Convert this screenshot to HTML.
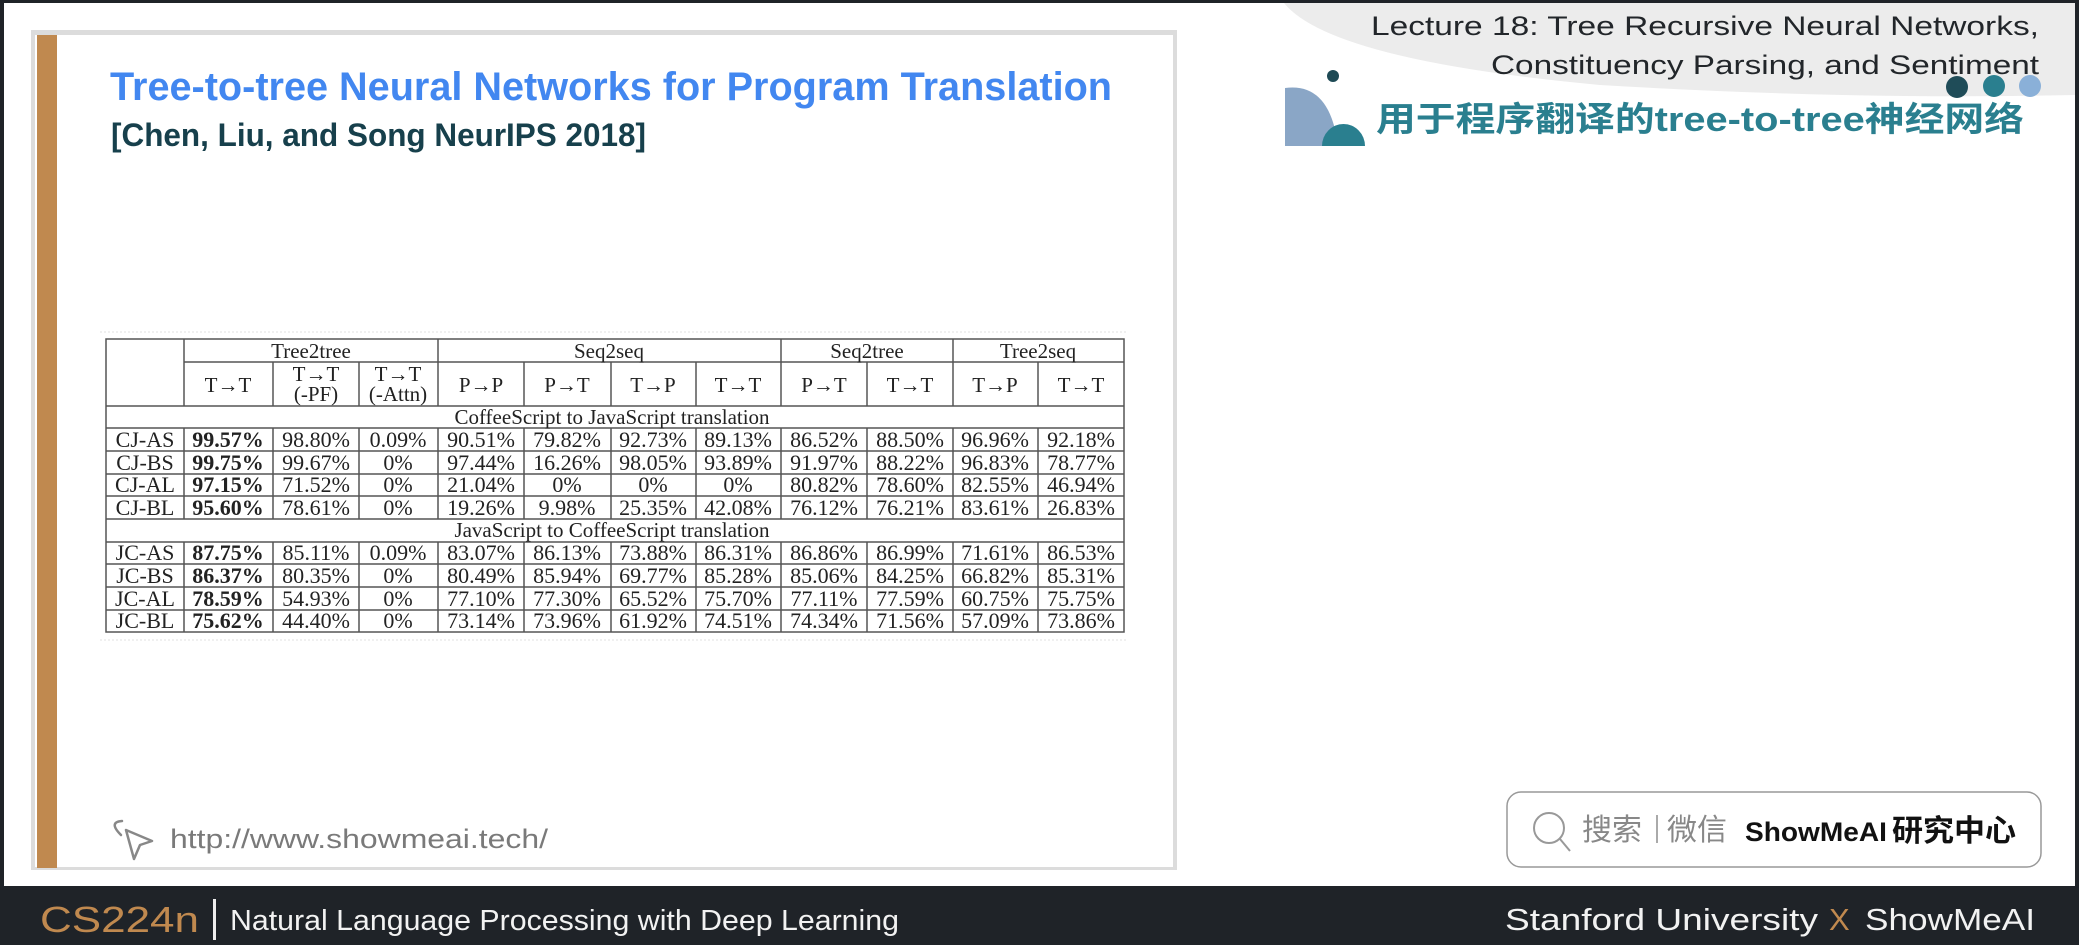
<!DOCTYPE html>
<html><head><meta charset="utf-8"><style>
html,body{margin:0;padding:0;background:#fff;}
svg{display:block;}
</style></head><body>
<svg width="2079" height="945" viewBox="0 0 2079 945" xmlns="http://www.w3.org/2000/svg">
<rect x="0" y="0" width="2079" height="945" fill="#fff"/>
<rect x="0" y="0" width="2079" height="3" fill="#1f2328"/>
<rect x="0" y="0" width="4" height="945" fill="#1f2328"/>
<rect x="2075" y="0" width="4" height="945" fill="#1f2328"/>
<path d="M1284 3 Q1330 60 1600 85 Q1850 100 2075 95 L2075 3 Z" fill="#ececec"/>
<rect x="31" y="30" width="1146" height="840" fill="#dcdcdc"/>
<rect x="35" y="35" width="1138" height="832" fill="#fff"/>
<rect x="37" y="35" width="20" height="833" fill="#c0894f"/>
<text x="110" y="100" font-family="Liberation Sans, sans-serif" font-weight="bold" font-size="40" fill="#4287f0" textLength="1002" lengthAdjust="spacingAndGlyphs">Tree-to-tree Neural Networks for Program Translation</text>
<text x="111" y="146" font-family="Liberation Sans, sans-serif" font-weight="bold" font-size="32" fill="#17404c" textLength="535" lengthAdjust="spacingAndGlyphs">[Chen, Liu, and Song NeurIPS 2018]</text>
<text x="2039" y="35" text-anchor="end" font-family="Liberation Sans, sans-serif" font-size="27" fill="#22262a" textLength="668" lengthAdjust="spacingAndGlyphs">Lecture 18: Tree Recursive Neural Networks,</text>
<text x="2039" y="74" text-anchor="end" font-family="Liberation Sans, sans-serif" font-size="27" fill="#22262a" textLength="548" lengthAdjust="spacingAndGlyphs">Constituency Parsing, and Sentiment</text>
<circle cx="1333" cy="76" r="6" fill="#1e4a55"/>
<path d="M1285 146 L1285 88 Q1330 82 1338 146 Z" fill="#8aa6c6"/>
<path d="M1322 146 A21.5 22 0 0 1 1365 146 Z" fill="#2a7f8f"/>
<circle cx="1957" cy="87" r="11" fill="#1f4c58"/>
<circle cx="1994" cy="86" r="11" fill="#2a7f8f"/>
<circle cx="2030" cy="86" r="11" fill="#8ab0d8"/>
<text x="1376" y="131" font-family="Liberation Sans, 'Noto Sans CJK SC', sans-serif" font-weight="bold" font-size="34" fill="#2a7f8f" textLength="648" lengthAdjust="spacingAndGlyphs">用于程序翻译的tree-to-tree神经网络</text>
<g stroke="#e0e0e0" stroke-dasharray="2,2" stroke-width="1">
<line x1="100" y1="332" x2="1128" y2="332"/><line x1="100" y1="640" x2="1128" y2="640"/>
</g>
<g stroke="#555" stroke-width="1.5" fill="none">
<rect x="106" y="339" width="1018" height="293"/>
<line x1="184" y1="362" x2="1124" y2="362"/>
<line x1="106" y1="406" x2="1124" y2="406"/>
<line x1="106" y1="428" x2="1124" y2="428"/>
<line x1="106" y1="451" x2="1124" y2="451"/>
<line x1="106" y1="474" x2="1124" y2="474"/>
<line x1="106" y1="496" x2="1124" y2="496"/>
<line x1="106" y1="519" x2="1124" y2="519"/>
<line x1="106" y1="542" x2="1124" y2="542"/>
<line x1="106" y1="564" x2="1124" y2="564"/>
<line x1="106" y1="587" x2="1124" y2="587"/>
<line x1="106" y1="610" x2="1124" y2="610"/>
<line x1="184" y1="339" x2="184" y2="406"/>
<line x1="438" y1="339" x2="438" y2="406"/>
<line x1="781" y1="339" x2="781" y2="406"/>
<line x1="953" y1="339" x2="953" y2="406"/>
<line x1="273" y1="362" x2="273" y2="406"/>
<line x1="359" y1="362" x2="359" y2="406"/>
<line x1="524" y1="362" x2="524" y2="406"/>
<line x1="611" y1="362" x2="611" y2="406"/>
<line x1="696" y1="362" x2="696" y2="406"/>
<line x1="867" y1="362" x2="867" y2="406"/>
<line x1="1038" y1="362" x2="1038" y2="406"/>
<path d="M184 428V519M273 428V519M359 428V519M438 428V519M524 428V519M611 428V519M696 428V519M781 428V519M867 428V519M953 428V519M1038 428V519"/>
<path d="M184 542V632M273 542V632M359 542V632M438 542V632M524 542V632M611 542V632M696 542V632M781 542V632M867 542V632M953 542V632M1038 542V632"/>
</g>
<g font-family="Liberation Serif, serif" font-size="21" fill="#222" text-anchor="middle">
<text x="311" y="358">Tree2tree</text>
<text x="609" y="358">Seq2seq</text>
<text x="867" y="358">Seq2tree</text>
<text x="1038" y="358">Tree2seq</text>
<g font-size="21">
<text x="228" y="392">T→T</text>
<text x="316" y="381">T→T</text><text x="316" y="401">(-PF)</text>
<text x="398" y="381">T→T</text><text x="398" y="401">(-Attn)</text>
<text x="481" y="392">P→P</text>
<text x="567" y="392">P→T</text>
<text x="653" y="392">T→P</text>
<text x="738" y="392">T→T</text>
<text x="824" y="392">P→T</text>
<text x="910" y="392">T→T</text>
<text x="995" y="392">T→P</text>
<text x="1081" y="392">T→T</text>
</g>
<text x="612" y="424" font-size="21">CoffeeScript to JavaScript translation</text>
<text x="612" y="537" font-size="21">JavaScript to CoffeeScript translation</text>
</g>
<g font-family="Liberation Serif, serif" font-size="22" fill="#222" text-anchor="middle">
<g>
<text x="145" y="447">CJ-AS</text><text x="228" y="447" font-weight="bold">99.57%</text><text x="316" y="447">98.80%</text><text x="398" y="447">0.09%</text><text x="481" y="447">90.51%</text><text x="567" y="447">79.82%</text><text x="653" y="447">92.73%</text><text x="738" y="447">89.13%</text><text x="824" y="447">86.52%</text><text x="910" y="447">88.50%</text><text x="995" y="447">96.96%</text><text x="1081" y="447">92.18%</text>
</g>
<g>
<text x="145" y="470">CJ-BS</text><text x="228" y="470" font-weight="bold">99.75%</text><text x="316" y="470">99.67%</text><text x="398" y="470">0%</text><text x="481" y="470">97.44%</text><text x="567" y="470">16.26%</text><text x="653" y="470">98.05%</text><text x="738" y="470">93.89%</text><text x="824" y="470">91.97%</text><text x="910" y="470">88.22%</text><text x="995" y="470">96.83%</text><text x="1081" y="470">78.77%</text>
</g>
<g>
<text x="145" y="492">CJ-AL</text><text x="228" y="492" font-weight="bold">97.15%</text><text x="316" y="492">71.52%</text><text x="398" y="492">0%</text><text x="481" y="492">21.04%</text><text x="567" y="492">0%</text><text x="653" y="492">0%</text><text x="738" y="492">0%</text><text x="824" y="492">80.82%</text><text x="910" y="492">78.60%</text><text x="995" y="492">82.55%</text><text x="1081" y="492">46.94%</text>
</g>
<g>
<text x="145" y="515">CJ-BL</text><text x="228" y="515" font-weight="bold">95.60%</text><text x="316" y="515">78.61%</text><text x="398" y="515">0%</text><text x="481" y="515">19.26%</text><text x="567" y="515">9.98%</text><text x="653" y="515">25.35%</text><text x="738" y="515">42.08%</text><text x="824" y="515">76.12%</text><text x="910" y="515">76.21%</text><text x="995" y="515">83.61%</text><text x="1081" y="515">26.83%</text>
</g>
<g>
<text x="145" y="560">JC-AS</text><text x="228" y="560" font-weight="bold">87.75%</text><text x="316" y="560">85.11%</text><text x="398" y="560">0.09%</text><text x="481" y="560">83.07%</text><text x="567" y="560">86.13%</text><text x="653" y="560">73.88%</text><text x="738" y="560">86.31%</text><text x="824" y="560">86.86%</text><text x="910" y="560">86.99%</text><text x="995" y="560">71.61%</text><text x="1081" y="560">86.53%</text>
</g>
<g>
<text x="145" y="583">JC-BS</text><text x="228" y="583" font-weight="bold">86.37%</text><text x="316" y="583">80.35%</text><text x="398" y="583">0%</text><text x="481" y="583">80.49%</text><text x="567" y="583">85.94%</text><text x="653" y="583">69.77%</text><text x="738" y="583">85.28%</text><text x="824" y="583">85.06%</text><text x="910" y="583">84.25%</text><text x="995" y="583">66.82%</text><text x="1081" y="583">85.31%</text>
</g>
<g>
<text x="145" y="606">JC-AL</text><text x="228" y="606" font-weight="bold">78.59%</text><text x="316" y="606">54.93%</text><text x="398" y="606">0%</text><text x="481" y="606">77.10%</text><text x="567" y="606">77.30%</text><text x="653" y="606">65.52%</text><text x="738" y="606">75.70%</text><text x="824" y="606">77.11%</text><text x="910" y="606">77.59%</text><text x="995" y="606">60.75%</text><text x="1081" y="606">75.75%</text>
</g>
<g>
<text x="145" y="628">JC-BL</text><text x="228" y="628" font-weight="bold">75.62%</text><text x="316" y="628">44.40%</text><text x="398" y="628">0%</text><text x="481" y="628">73.14%</text><text x="567" y="628">73.96%</text><text x="653" y="628">61.92%</text><text x="738" y="628">74.51%</text><text x="824" y="628">74.34%</text><text x="910" y="628">71.56%</text><text x="995" y="628">57.09%</text><text x="1081" y="628">73.86%</text>
</g>
</g>
<g fill="none" stroke="#888" stroke-width="2.5" stroke-linejoin="round" stroke-linecap="round">
<path d="M121 835 Q108 822 122 821"/>
<path d="M126 830 L152 841 L140 845 L134 859 Z"/>
</g>
<text x="170" y="848" font-family="Liberation Sans, sans-serif" font-size="27" fill="#7a7a7a" textLength="378" lengthAdjust="spacingAndGlyphs">http://www.showmeai.tech/</text>
<rect x="1507" y="792" width="534" height="75" rx="14" fill="#fff" stroke="#999" stroke-width="1.5"/>
<circle cx="1549" cy="828" r="15" fill="none" stroke="#999" stroke-width="2"/>
<line x1="1560" y1="839" x2="1570" y2="851" stroke="#999" stroke-width="2"/>
<text x="1582" y="840" font-family="'Noto Sans CJK SC', sans-serif" font-size="30" fill="#888">搜索</text>
<rect x="1656" y="815" width="2" height="28" fill="#aaa"/>
<text x="1667" y="840" font-family="'Noto Sans CJK SC', sans-serif" font-size="30" fill="#888">微信</text>
<text x="1745" y="841" font-family="Liberation Sans, sans-serif" font-weight="bold" font-size="27" fill="#111" textLength="142" lengthAdjust="spacingAndGlyphs">ShowMeAI</text>
<text x="1892" y="841" font-family="'Noto Sans CJK SC', sans-serif" font-weight="bold" font-size="30" fill="#111" textLength="124" lengthAdjust="spacingAndGlyphs">研究中心</text>
<rect x="0" y="886" width="2079" height="59" fill="#1f2328"/>
<text x="40" y="932" font-family="Liberation Sans, sans-serif" font-size="36" fill="#c0894f" textLength="159" lengthAdjust="spacingAndGlyphs">CS224n</text>
<rect x="213" y="899" width="3" height="41" fill="#eee"/>
<text x="230" y="930" font-family="Liberation Sans, sans-serif" font-size="29" fill="#f2f2f2" textLength="669" lengthAdjust="spacingAndGlyphs">Natural Language Processing with Deep Learning</text>
<text x="1505" y="930" font-family="Liberation Sans, sans-serif" font-size="31" fill="#f2f2f2" textLength="313" lengthAdjust="spacingAndGlyphs">Stanford University</text>
<text x="1829" y="930" font-family="Liberation Sans, sans-serif" font-size="31" fill="#c0894f">X</text>
<text x="1865" y="930" font-family="Liberation Sans, sans-serif" font-size="31" fill="#f2f2f2" textLength="170" lengthAdjust="spacingAndGlyphs">ShowMeAI</text>
</svg>
</body></html>
